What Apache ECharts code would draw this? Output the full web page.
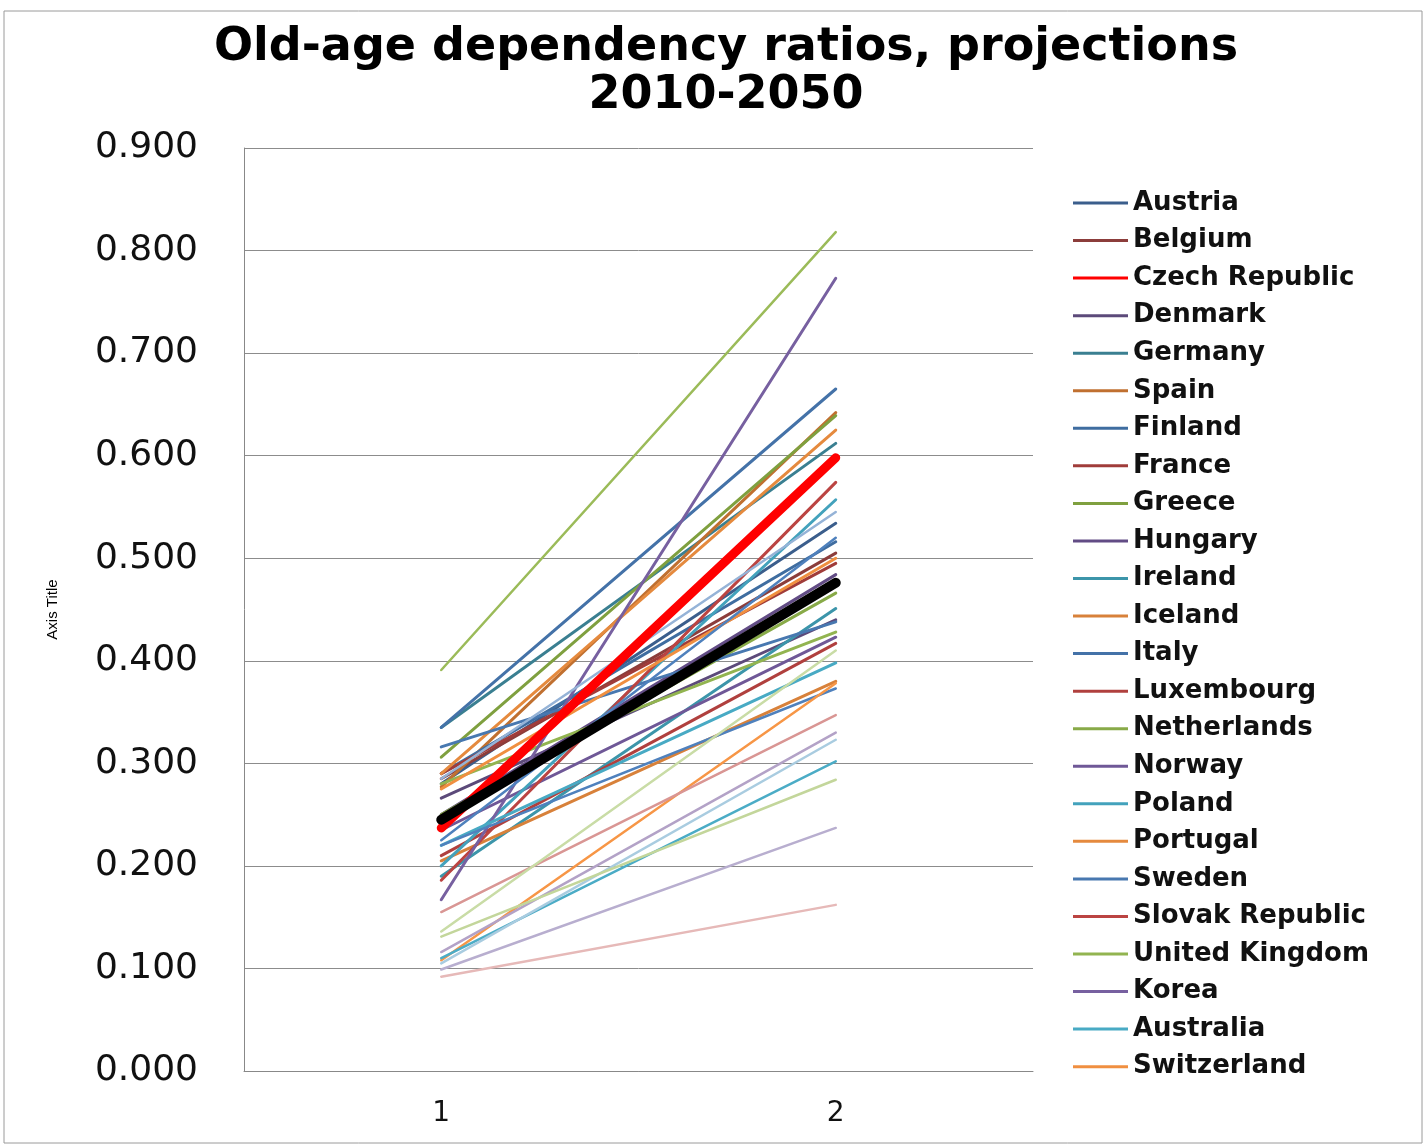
<!DOCTYPE html>
<html><head><meta charset="utf-8">
<script src="https://cdn.jsdelivr.net/npm/echarts@6/dist/echarts.min.js"></script>
<style>html,body{margin:0;padding:0;background:#fff}#c{width:1426px;height:1146px}</style>
</head><body><div id="c"></div>
<script>
const categories = ['1', '2'];
const titleText = 'Old-age dependency ratios, projections\n2010-2050';
const legendNames = ['Austria','Belgium','Czech Republic','Denmark','Germany','Spain','Finland','France','Greece','Hungary','Ireland','Iceland','Italy','Luxembourg','Netherlands','Norway','Poland','Portugal','Sweden','Slovak Republic','United Kingdom','Korea','Australia','Switzerland'];
const extraNames = ['Series 25','Series 26','Series 27','Series 28','Series 29','Series 30','Series 31','Series 32','Series 33','Series 34','Series 35','Series 36','Series 37','Series 38'];
const seriesNames = legendNames.concat(extraNames);
const values1 = [0.280,0.285,0.237,0.266,0.335,0.277,0.290,0.290,0.306,0.250,0.190,0.205,0.335,0.210,0.250,0.235,0.200,0.290,0.316,0.186,0.280,0.167,0.220,0.275,
                 0.391,0.225,0.220,0.285,0.108,0.110,0.116,0.105,0.099,0.092,0.155,0.131,0.136,0.245];
const values2 = [0.534,0.505,0.598,0.440,0.612,0.642,0.516,0.495,0.639,0.484,0.451,0.380,0.665,0.417,0.466,0.423,0.557,0.625,0.438,0.574,0.428,0.773,0.398,0.500,
                 0.818,0.520,0.373,0.545,0.378,0.302,0.330,0.323,0.237,0.162,0.347,0.284,0.410,0.476];
const yTicks = [0, 0.1, 0.2, 0.3, 0.4, 0.5, 0.6, 0.7, 0.8, 0.9];

const lineColors = ['#3B5E8C','#8C3D3B','#FF0000','#5C4A7A','#3A7F91','#C07030','#3F6DA0','#A03C3A','#7FA03F','#624C85','#3C95AA','#D8813A',
                    '#4472A8','#B0403E','#88AA48','#6F5897','#43A2BC','#E58A3E','#4878B0','#BB4442','#92B450','#7760A0','#48AAC4','#F08F40',
                    '#9BBB59','#4F81BD','#4F81BD','#95B3D7','#F79646','#4BACC6','#B3A2C7','#A9CCE0','#B8AECF','#E6B9B8','#D99694','#C3D69B','#C9DCA6','#000000'];

const series = seriesNames.map((n, i) => {
  let w = i >= 24 ? 2.5 : 3;
  let z = 2;
  if (n === 'Czech Republic') { w = 9; z = 4; }
  if (lineColors[i] === '#000000') { w = 10; z = 5; }
  return {
    name: n, type: 'line', symbol: 'none', z: z,
    data: [values1[i], values2[i]],
    itemStyle: { color: lineColors[i] },
    lineStyle: { color: lineColors[i], width: w, cap: 'round', join: 'round' },
    emphasis: { disabled: true }, silent: true
  };
});

const chart = echarts.init(document.getElementById('c'));
chart.setOption({
  animation: false,
  backgroundColor: '#fff',
  graphic: [{
    type: 'rect', shape: { x: 4, y: 11, width: 1418, height: 1132 },
    style: { fill: 'none', stroke: '#9a9a9a', lineWidth: 1 }, silent: true, z: -1
  }, {
    type: 'text', x: 726, y: 24, silent: true,
    style: { text: titleText, font: 'bold 46px "DejaVu Sans"', lineHeight: 48, textAlign: 'center', align: 'center', fill: '#000' }
  }],
  legend: {
    data: legendNames, orient: 'vertical', left: 1068, top: 185,
    icon: 'rect', itemWidth: 55, itemHeight: 3, itemGap: 11.55,
    textStyle: { fontFamily: 'DejaVu Sans', fontWeight: 'bold', fontSize: 26, lineHeight: 26, color: '#111' }
  },
  grid: { left: 244, right: 393, top: 148, bottom: 75, containLabel: false },
  xAxis: {
    type: 'category', data: categories, boundaryGap: true,
    axisLine: { lineStyle: { color: '#888', width: 1 } },
    axisTick: { show: false },
    axisLabel: { fontFamily: 'DejaVu Sans', fontSize: 28, color: '#111', margin: 29 }
  },
  yAxis: {
    type: 'value', min: 0, max: 0.9, interval: 0.1,
    name: 'Axis Title', nameLocation: 'middle', nameRotate: 90, nameGap: 184,
    nameTextStyle: { fontFamily: 'Liberation Sans Narrow, Liberation Sans, Arial', fontSize: 15, color: '#000' },
    axisLine: { show: true, lineStyle: { color: '#888', width: 1 } },
    axisTick: { show: false },
    splitLine: { lineStyle: { color: '#8c8c8c', width: 1 } },
    axisLabel: {
      fontFamily: 'DejaVu Sans', fontSize: 36, color: '#111', margin: 46,
      formatter: v => yTicks.some(t => Math.abs(t - v) < 1e-9) ? v.toFixed(3) : ''
    }
  },
  series: series
});
</script>
</body></html>
